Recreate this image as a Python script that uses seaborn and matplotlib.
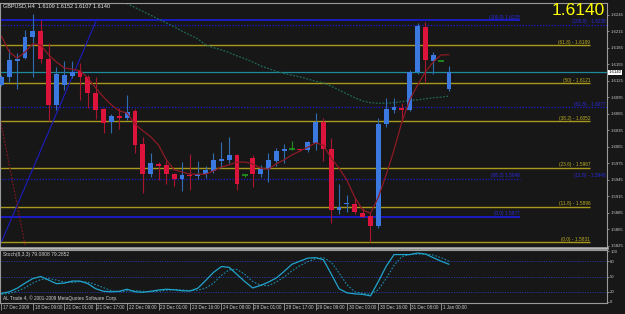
import matplotlib
matplotlib.use('Agg')
import matplotlib.pyplot as plt
import matplotlib.transforms as mtransforms
import numpy as np
import pandas as pd
import seaborn as sns

# GBPUSD H4 candles (17 Dec 2009 .. 1 Jan 2010)
title_text = 'GBPUSD,H4  1.6109 1.6152 1.6107 1.6140'
last_price = 1.6140

opens = [1.6117, 1.6132, 1.6160, 1.6166, 1.6205, 1.6215, 1.6164, 1.6081, 1.6117, 1.6134,
         1.6143, 1.6132, 1.6102, 1.6073, 1.6049, 1.6059, 1.6057, 1.6069, 1.6009, 1.5955,
         1.5974, 1.5971, 1.5955, 1.5947, 1.5953, 1.5952, 1.5955, 1.5961, 1.5979, 1.5981,
         1.5989, 1.5953, 1.5984, 1.5956, 1.5964, 1.5979, 1.5997, 1.6000, 1.6000, 1.5999,
         1.6012, 1.6049, 1.6000, 1.5889, 1.5900, 1.5901, 1.5885, 1.5879, 1.5861, 1.6046,
         1.6072, 1.6076, 1.6072, 1.6141, 1.6223, 1.6161, 1.6161, 1.6109]
highs = [1.6135, 1.6182, 1.6176, 1.6217, 1.6246, 1.6235, 1.6193, 1.6150, 1.6160, 1.6161,
         1.6157, 1.6135, 1.6132, 1.6075, 1.6064, 1.6075, 1.6099, 1.6073, 1.6023, 1.5993,
         1.5978, 1.5979, 1.5958, 1.5977, 1.5991, 1.5979, 1.5969, 1.5993, 1.6013, 1.6022,
         1.5991, 1.5955, 1.5990, 1.5971, 1.5993, 1.6003, 1.6010, 1.6015, 1.6001, 1.6015,
         1.6067, 1.6058, 1.6020, 1.5937, 1.5917, 1.5911, 1.5893, 1.5887, 1.6058, 1.6093,
         1.6093, 1.6085, 1.6144, 1.6230, 1.6232, 1.6178, 1.6161, 1.6152]
lows = [1.6115, 1.6123, 1.6109, 1.6164, 1.6132, 1.6157, 1.6052, 1.6072, 1.6108, 1.6129,
        1.6090, 1.6075, 1.6055, 1.6029, 1.6030, 1.6037, 1.6054, 1.5994, 1.5920, 1.5950,
        1.5944, 1.5938, 1.5934, 1.5924, 1.5927, 1.5946, 1.5948, 1.5958, 1.5967, 1.5975,
        1.5927, 1.5950, 1.5932, 1.5949, 1.5941, 1.5969, 1.5975, 1.5999, 1.5998, 1.5995,
        1.5999, 1.5979, 1.5866, 1.5883, 1.5887, 1.5883, 1.5877, 1.5832, 1.5858, 1.6041,
        1.6066, 1.6050, 1.6069, 1.6137, 1.6123, 1.6138, 1.6161, 1.6107]
closes = [1.6132, 1.6163, 1.6165, 1.6205, 1.6216, 1.6164, 1.6081, 1.6138, 1.6135, 1.6141,
          1.6132, 1.6102, 1.6072, 1.6048, 1.6060, 1.6058, 1.6068, 1.6008, 1.5955, 1.5975,
          1.5970, 1.5955, 1.5946, 1.5953, 1.5951, 1.5956, 1.5963, 1.5981, 1.5983, 1.5990,
          1.5938, 1.5953, 1.5955, 1.5965, 1.5981, 1.5997, 1.6001, 1.6000, 1.5999, 1.6014,
          1.6049, 1.6001, 1.5889, 1.5896, 1.5903, 1.5887, 1.5878, 1.5861, 1.6046, 1.6074,
          1.6077, 1.6071, 1.6141, 1.6224, 1.6163, 1.6171, 1.6161, 1.6140]

# red moving average (one value per candle)
ma_red = [1.6206, 1.6177, 1.6166, 1.6177, 1.6192, 1.6190, 1.6172, 1.6159, 1.6148, 1.6146,
          1.6143, 1.6130, 1.6112, 1.6095, 1.6081, 1.6070, 1.6066, 1.6046, 1.6034, 1.6023,
          1.6008, 1.5981, 1.5963, 1.5959, 1.5955, 1.5955, 1.5955, 1.5961, 1.5968, 1.5972,
          1.5977, 1.5977, 1.5974, 1.5966, 1.5964, 1.5974, 1.5981, 1.5990, 1.5997, 1.6004,
          1.6012, 1.6008, 1.5984, 1.5966, 1.5944, 1.5913, 1.5890, 1.5884, 1.5913, 1.5954,
          1.5999, 1.6050, 1.6090, 1.6117, 1.6141, 1.6159, 1.6172, 1.6172]

# slow green moving average, starts at candle 14 (above the chart there)
ma_green_start = 14
ma_green = [1.6279, 1.6272, 1.6265, 1.6258, 1.6251, 1.6244, 1.6237, 1.6230, 1.6223, 1.6215,
            1.6208, 1.6201, 1.6190, 1.6185, 1.6181, 1.6176, 1.6170, 1.6165, 1.6159, 1.6152,
            1.6147, 1.6142, 1.6138, 1.6135, 1.6132, 1.6128, 1.6124, 1.6121, 1.6115, 1.6108,
            1.6101, 1.6094, 1.6088, 1.6085, 1.6084, 1.6084, 1.6085, 1.6087, 1.6089, 1.6090,
            1.6092, 1.6094, 1.6095, 1.6097]

# stochastic (8,3,3)
stoch_main = [17, 20, 27, 37, 46, 50, 43, 36, 37, 41,
              41, 36, 26, 21, 20, 21, 25, 20, 19, 21,
              23.5, 25, 24, 22, 21.5, 27, 42, 58, 69.5, 68,
              54, 40, 27.5, 32.5, 39, 47, 60, 74, 80, 86,
              87, 83, 55, 26, 18, 16, 15, 12, 40, 70,
              93, 93, 93, 96, 94, 87, 80, 74]
stoch_signal = [15, 17, 21, 28, 37, 44, 46, 43, 39, 38,
                40, 39, 34, 28, 22, 20, 22, 22, 21, 20,
                21, 23, 24, 23.5, 22.5, 23, 27, 37, 52, 63,
                64, 54, 40, 33, 32, 39, 49, 61, 71, 79,
                85, 87, 78, 57, 34, 20, 17, 15, 24, 46,
                72, 89, 93, 94, 94, 92, 87, 80]
stoch_label = 'Stoch(8,3,3) 79.0808 79.2852'
stoch_levels = [20, 50, 80]
stoch_ticks = [0, 20, 50, 80, 100]

# fibonacci / drawn objects
fib_levels = [1.6189, 1.6121, 1.6052, 1.5967, 1.5896, 1.5831]
fib_labels = ['(61.8) - 1.6189', '(50) - 1.6121', '(38.2) - 1.6052',
              '(23.6) - 1.5967', '(11.8) - 1.5896', '(0.0) - 1.5831']
blue_solid_levels = [1.6235, 1.5878]
blue_solid_labels = ['(100.0) 1.6235', '(0.0) 1.5877']
blue_dot_levels = [1.6227, 1.6077, 1.5947]
blue_dot_labels = ['(100.0) - 1.6230', '(61.8) - 1.6077', '(11.8) - 1.5948']
blue_mid_label = '(88.2) 1.5948'
trend_blue_x = [0, 12.1]
trend_blue_y = [1.5832, 1.6235]
trend_red_x = [-0.2, 3.0]
trend_red_y = [1.6058, 1.5826]

price_ticks = [1.6245, 1.6215, 1.6185, 1.6155, 1.6125, 1.6095, 1.6065, 1.6035,
               1.6005, 1.5975, 1.5945, 1.5915, 1.5885, 1.5855, 1.5825]
date_idx = list(range(0, 57, 4))
date_labels = ['17 Dec 2009', '18 Dec 09:00', '21 Dec 01:00', '21 Dec 17:00',
               '22 Dec 09:00', '23 Dec 01:00', '23 Dec 16:00', '24 Dec 08:00',
               '28 Dec 01:00', '28 Dec 17:00', '29 Dec 09:00', '30 Dec 00:00',
               '30 Dec 16:00', '31 Dec 08:00', '1 Jan 00:00']
copyright_text = 'AL Trade 4, \u00a9 2001-2009 MetaQuotes Software Corp.'

BG = '#171717'
BULL = '#3b78e0'
BEAR = '#dc143c'
BULL_WICK = '#2f6db0'
BEAR_WICK = '#a8162e'
DOJI = '#1f8f1f'
FIB = '#a8981c'
FIB_TXT = '#c0ae22'
BLUE = '#1c1cd0'
AXIS = '#9a9a9a'
TXT = '#c8c8c8'

sns.set_theme(style='dark', rc={'axes.facecolor': BG, 'figure.facecolor': BG,
                                'axes.edgecolor': AXIS, 'axes.grid': False})
plt.rcParams['font.family'] = ['Liberation Sans', 'DejaVu Sans']

df = pd.DataFrame({'o': opens, 'h': highs, 'l': lows, 'c': closes})
df['i'] = np.arange(len(df))
up = df.c > df.o
down = df.c < df.o
doji = df.c == df.o
body = (df.c - df.o).abs().clip(lower=0.0002)

fig = plt.figure(figsize=(6.25, 3.14), dpi=100)
ax = fig.add_axes([0, 66 / 314, 607 / 625, 245 / 314])
ax2 = fig.add_axes([0, 11 / 314, 607 / 625, 53 / 314], sharex=ax)

xmax_fib = 75
xmax_obj = 66

# horizontal objects
ax.hlines(fib_levels, -1, xmax_fib, color=FIB, lw=1.0, zorder=1)
for lv, lab in zip(fib_levels, fib_labels):
    ax.text(xmax_fib, lv + 0.00003, lab, ha='right', va='bottom', fontsize=3.4, color=FIB_TXT)
ax.hlines(blue_solid_levels, -1, xmax_obj, color=BLUE, lw=1.3, zorder=1)
for lv, lab in zip(blue_solid_levels, blue_solid_labels):
    ax.text(xmax_obj, lv + 0.00005, lab, ha='right', va='bottom', fontsize=3.4, color='#2a2ae0')
ax.hlines(blue_dot_levels[:2], -1, 78, color=BLUE, lw=0.9, linestyles=(0, (1, 1.3)), zorder=1)
ax.hlines(blue_dot_levels[2], -1, xmax_obj, color=BLUE, lw=0.9, linestyles=(0, (1, 1.3)), zorder=1)
for lv, lab in zip(blue_dot_levels, blue_dot_labels):
    ax.text(76.9, lv + 0.00003, lab, ha='right', va='bottom', fontsize=3.4, color='#2a2ae0')
ax.text(xmax_obj, blue_dot_levels[2] + 0.00003, blue_mid_label, ha='right', va='bottom',
        fontsize=3.4, color='#2a2ae0')
ax.axhline(last_price, color='#1e8a9e', lw=0.9, zorder=1)

# trend lines
ax.plot(trend_blue_x, trend_blue_y, color='#1c1cc0', lw=0.8, zorder=2)
ax.plot(trend_red_x, trend_red_y, color='#7a1822', lw=0.9, ls=(0, (1.5, 1.2)), zorder=2)

# slow MA
sns.lineplot(x=np.arange(ma_green_start, ma_green_start + len(ma_green)), y=ma_green, ax=ax,
             color='#1f6a58', lw=0.9, ls=(0, (1.5, 1.2)), zorder=2)

# candles
ax.vlines(df.i[up], df.l[up], df.h[up], color=BULL_WICK, lw=0.8, zorder=3)
ax.vlines(df.i[down], df.l[down], df.h[down], color=BEAR_WICK, lw=0.8, zorder=3)
ax.vlines(df.i[doji], df.l[doji], df.h[doji], color=DOJI, lw=0.8, zorder=3)
ax.bar(df.i[up], body[up], bottom=df.o[up], width=0.62, color=BULL, lw=0, zorder=4)
ax.bar(df.i[down], body[down], bottom=df.c[down], width=0.62, color=BEAR, lw=0, zorder=4)
ax.hlines(df.c[doji], df.i[doji] - 0.34, df.i[doji] + 0.34, color=DOJI, lw=1.3, zorder=4)

# fast MA over the candles
sns.lineplot(x=df.i, y=ma_red, ax=ax, color='#8e1a24', lw=0.9, zorder=5)

ax.set_xlim(-0.19, 77.13)
ax.set_ylim(1.58208, 1.62662)
ax.yaxis.tick_right()
ax.set_yticks(price_ticks)
ax.set_yticklabels(['%.4f' % p for p in price_ticks])
ax.tick_params(axis='y', labelsize=3.1, labelcolor=TXT, color=AXIS, length=1.5, width=0.6, pad=0.8,
               right=True)
ax.tick_params(axis='x', bottom=False, labelbottom=False)
ax.set_xlabel('')
ax.set_ylabel('')
for s in ax.spines.values():
    s.set_color(AXIS)
    s.set_linewidth(0.8)
ax.spines['bottom'].set_color('#b8b8b8')
ax.spines['bottom'].set_linewidth(1.8)

ax.text(0.005, 0.997, title_text, transform=ax.transAxes, ha='left', va='top',
        fontsize=4.0, color='#e8e8e8')
ax.text(1.003, last_price, '%.4f' % last_price, transform=ax.get_yaxis_transform(),
        ha='left', va='center', fontsize=3.1, color='black',
        bbox=dict(boxstyle='square,pad=0.12', fc='white', ec='none'), zorder=10, clip_on=False)
fig.text(605 / 625, 1 - 10.5 / 314, '%.4f' % last_price, ha='right', va='center',
         fontsize=12.5, color='#ffff00')

# stochastic panel
ax2.hlines(stoch_levels, -1, 78, color='#2a3ab0', lw=0.7, linestyles=(0, (1, 1.5)))
sns.lineplot(x=df.i, y=stoch_signal, ax=ax2, color='#1a8cb0', lw=0.8, ls=(0, (1.5, 1.5)))
sns.lineplot(x=df.i, y=stoch_main, ax=ax2, color='#20a4cc', lw=0.9)
ax2.set_ylim(-2, 102)
ax2.yaxis.tick_right()
ax2.set_yticks(stoch_ticks)
ax2.set_yticklabels([str(t) for t in stoch_ticks])
ax2.tick_params(axis='y', labelsize=3.1, labelcolor=TXT, color=AXIS, length=1.5, width=0.6, pad=0.8,
                right=True)
ax2.set_xticks(date_idx)
ax2.set_xticklabels(date_labels, ha='left')
ax2.tick_params(axis='x', labelsize=3.3, labelcolor=TXT, color=AXIS, length=5, width=0.6,
                pad=-3.8, bottom=True, labelbottom=True)
shift = mtransforms.ScaledTranslation(1.2 / 72, 0, fig.dpi_scale_trans)
for lab in ax2.get_xticklabels():
    lab.set_transform(lab.get_transform() + shift)
ax2.set_xlabel('')
ax2.set_ylabel('')
for s in ax2.spines.values():
    s.set_color(AXIS)
    s.set_linewidth(0.8)
ax2.text(0.005, 0.97, stoch_label, transform=ax2.transAxes, ha='left', va='top',
         fontsize=3.6, color='#d0d0d0')
ax2.text(0.005, 0.03, copyright_text, transform=ax2.transAxes, ha='left', va='bottom',
         fontsize=3.4, color='#d0d0d0')

fig.savefig('out.png', dpi=100, facecolor=BG)
